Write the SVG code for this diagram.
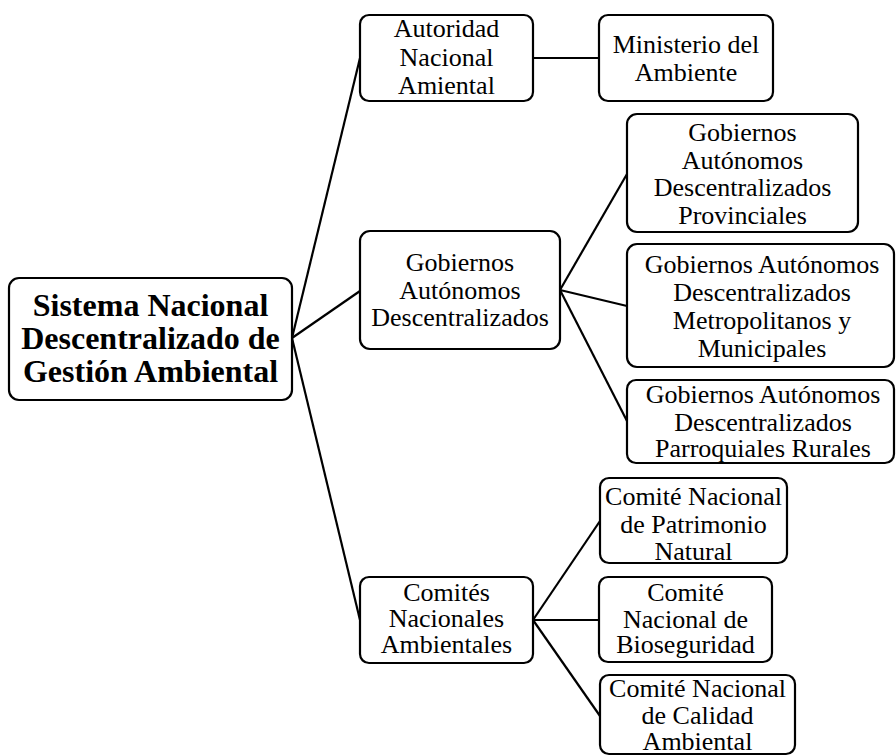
<svg xmlns="http://www.w3.org/2000/svg" width="896" height="756" viewBox="0 0 896 756">
<style>
.box{fill:#fff;stroke:#000;stroke-width:2.2}
.t{font-family:"Liberation Serif","Times New Roman",serif;font-size:26px;fill:#000;text-anchor:middle}
.b{font-family:"Liberation Serif","Times New Roman",serif;font-size:32px;font-weight:bold;fill:#000;text-anchor:middle}
.c{stroke:#000;stroke-width:2.2;fill:none}
</style>
<rect width="896" height="756" fill="#fff"/>
<g id="connectors">
<line class="c" x1="292" y1="338" x2="360" y2="58"/>
<line class="c" x1="292" y1="338" x2="360" y2="291"/>
<line class="c" x1="292" y1="338" x2="360" y2="620"/>
<line class="c" x1="533" y1="58" x2="599" y2="58"/>
<line class="c" x1="560" y1="290" x2="627" y2="174"/>
<line class="c" x1="560" y1="290" x2="627" y2="306"/>
<line class="c" x1="560" y1="290" x2="627" y2="421"/>
<line class="c" x1="533" y1="620" x2="600" y2="521"/>
<line class="c" x1="533" y1="620" x2="599" y2="620"/>
<line class="c" x1="533" y1="620" x2="600" y2="716"/>
</g>
<g id="root">
<rect class="box" x="9" y="278" width="283" height="122" rx="10"/>
<text class="b" x="150.5" y="316">Sistema Nacional</text>
<text class="b" x="150.5" y="349">Descentralizado de</text>
<text class="b" x="150.5" y="382">Gestión Ambiental</text>
</g>
<g id="autoridad">
<rect class="box" x="360" y="15" width="173" height="86" rx="9"/>
<text class="t" x="446.5" y="37">Autoridad</text>
<text class="t" x="446.5" y="66">Nacional</text>
<text class="t" x="446.5" y="94">Amiental</text>
</g>
<g id="ministerio">
<rect class="box" x="599" y="15" width="174" height="86" rx="9"/>
<text class="t" x="686" y="53">Ministerio del</text>
<text class="t" x="686" y="81">Ambiente</text>
</g>
<g id="gad">
<rect class="box" x="360" y="231" width="200" height="118" rx="10"/>
<text class="t" x="460" y="271">Gobiernos</text>
<text class="t" x="460" y="298.5">Autónomos</text>
<text class="t" x="460" y="326">Descentralizados</text>
</g>
<g id="gad-provinciales">
<rect class="box" x="627" y="114" width="231" height="118" rx="10"/>
<text class="t" x="742.5" y="141">Gobiernos</text>
<text class="t" x="742.5" y="168.5">Autónomos</text>
<text class="t" x="742.5" y="196">Descentralizados</text>
<text class="t" x="742.5" y="223.5">Provinciales</text>
</g>
<g id="gad-metropolitanos">
<rect class="box" x="627" y="244" width="267" height="123" rx="10"/>
<text class="t" x="762" y="273">Gobiernos Autónomos</text>
<text class="t" x="762" y="301">Descentralizados</text>
<text class="t" x="762" y="329">Metropolitanos y</text>
<text class="t" x="762" y="357">Municipales</text>
</g>
<g id="gad-parroquiales">
<rect class="box" x="627" y="380" width="267" height="83" rx="9"/>
<text class="t" x="763" y="403">Gobiernos Autónomos</text>
<text class="t" x="763" y="431">Descentralizados</text>
<text class="t" x="763" y="457">Parroquiales Rurales</text>
</g>
<g id="comites">
<rect class="box" x="360" y="577" width="173" height="86" rx="9"/>
<text class="t" x="446.5" y="601">Comités</text>
<text class="t" x="446.5" y="627">Nacionales</text>
<text class="t" x="446.5" y="653">Ambientales</text>
</g>
<g id="patrimonio">
<rect class="box" x="600" y="478" width="187" height="85" rx="9"/>
<text class="t" x="693.5" y="505">Comité Nacional</text>
<text class="t" x="693.5" y="533">de Patrimonio</text>
<text class="t" x="693.5" y="560">Natural</text>
</g>
<g id="bioseguridad">
<rect class="box" x="599" y="577" width="173" height="85" rx="9"/>
<text class="t" x="685.5" y="601">Comité</text>
<text class="t" x="685.5" y="628">Nacional de</text>
<text class="t" x="685.5" y="653">Bioseguridad</text>
</g>
<g id="calidad">
<rect class="box" x="600" y="675" width="195" height="79" rx="9"/>
<text class="t" x="697.5" y="697">Comité Nacional</text>
<text class="t" x="697.5" y="724">de Calidad</text>
<text class="t" x="697.5" y="750">Ambiental</text>
</g>
</svg>
